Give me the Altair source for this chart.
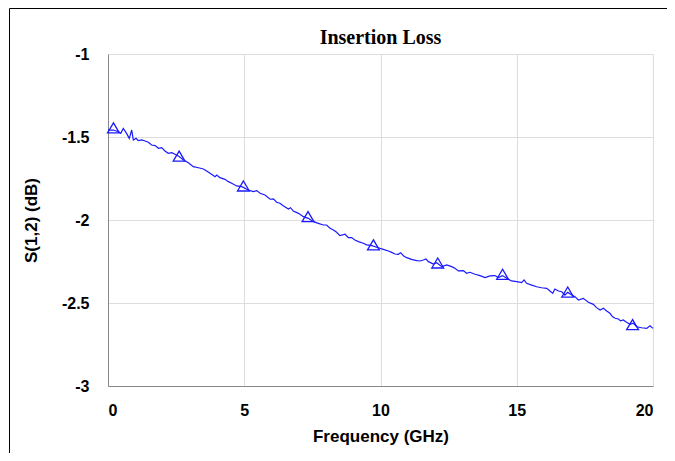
import altair as alt
import pandas as pd

# Trace: frequency (GHz) and S(1,2) (dB)
freq = [
    0.00, 0.20, 0.38, 0.47, 0.56, 0.66, 0.78, 0.87, 0.93, 1.03,
    1.11, 1.24, 1.36, 1.48, 1.60, 1.73, 1.85, 1.97, 2.09, 2.21,
    2.34, 2.46, 2.61, 2.77, 2.95, 3.13, 3.32, 3.50, 3.62, 3.80,
    3.93, 3.99, 4.11, 4.29, 4.42, 4.54, 4.72, 4.91, 5.15, 5.33,
    5.46, 5.58, 5.76, 5.95, 6.07, 6.19, 6.31, 6.43, 6.62, 6.70,
    6.80, 6.99, 7.17, 7.35, 7.54, 7.72, 7.90, 8.02, 8.15, 8.27,
    8.39, 8.51, 8.70, 8.82, 8.94, 9.06, 9.19, 9.37, 9.49, 9.68,
    9.92,
    10.10, 10.29, 10.41, 10.53, 10.65, 10.74, 10.84, 10.96, 11.14, 11.33,
    11.45, 11.57, 11.67, 11.76, 11.94, 12.06, 12.25, 12.43, 12.61, 12.73,
    12.86, 13.04, 13.16, 13.28, 13.47, 13.65, 13.84, 14.02, 14.20, 14.32,
    14.48, 14.63, 14.81, 15.00, 15.18, 15.27, 15.36, 15.55, 15.73, 15.91,
    16.10, 16.22, 16.32, 16.40, 16.53, 16.65, 16.77, 16.87, 17.02, 17.14,
    17.26, 17.44, 17.63, 17.81, 17.93, 18.06, 18.18, 18.30, 18.42, 18.51,
    18.61, 18.73, 18.81, 18.91, 19.03, 19.16, 19.28, 19.40, 19.58, 19.77,
    19.89, 20.00,
]
s12 = [
    -1.458, -1.458, -1.468, -1.478, -1.448, -1.472, -1.508, -1.458, -1.518, -1.508,
    -1.522, -1.518, -1.524, -1.532, -1.548, -1.552, -1.568, -1.564, -1.584, -1.598,
    -1.594, -1.604, -1.618, -1.639, -1.655, -1.679, -1.685, -1.693, -1.705, -1.725,
    -1.739, -1.729, -1.745, -1.755, -1.769, -1.779, -1.795, -1.799, -1.819, -1.829,
    -1.823, -1.839, -1.849, -1.875, -1.873, -1.893, -1.899, -1.914, -1.934, -1.926,
    -1.946, -1.960, -1.980, -1.990, -2.010, -2.020, -2.030, -2.030, -2.050, -2.060,
    -2.074, -2.094, -2.086, -2.106, -2.106, -2.120, -2.130, -2.140, -2.150, -2.154,
    -2.167,
    -2.177, -2.187, -2.195, -2.205, -2.207, -2.197, -2.215, -2.227, -2.237, -2.245,
    -2.247, -2.241, -2.235, -2.251, -2.265, -2.257, -2.281, -2.271, -2.281, -2.291,
    -2.307, -2.305, -2.321, -2.315, -2.327, -2.335, -2.347, -2.337, -2.335, -2.347,
    -2.335, -2.351, -2.367, -2.371, -2.377, -2.361, -2.381, -2.392, -2.402, -2.408,
    -2.412, -2.428, -2.442, -2.416, -2.428, -2.432, -2.452, -2.436, -2.452, -2.462,
    -2.482, -2.472, -2.496, -2.508, -2.528, -2.542, -2.532, -2.548, -2.562, -2.582,
    -2.592, -2.596, -2.608, -2.602, -2.616, -2.628, -2.622, -2.643, -2.649, -2.653,
    -2.637, -2.653,
]
assert len(freq) == len(s12), (len(freq), len(s12))

# Triangle marker positions
marker_freq = [0.20, 2.61, 4.97, 7.34, 9.74, 12.10, 14.48, 16.87, 19.25]
marker_s12 = [-1.445, -1.615, -1.795, -1.980, -2.150, -2.259, -2.327, -2.434, -2.630]

x_ticks = [0, 5, 10, 15, 20]
y_ticks = [-3, -2.5, -2, -1.5, -1]
chart_title = ["Insertion Loss"]

W, H = 545, 332
BLUE = "#1a1aff"
SANS = "Liberation Sans"

line_df = pd.DataFrame({"f": freq, "s": s12})
mk_df = pd.DataFrame({"f": marker_freq, "s": marker_s12})

x_enc = alt.X(
    "f:Q",
    scale=alt.Scale(domain=[0, 20], nice=False, zero=False),
    axis=alt.Axis(
        title="Frequency (GHz)", values=x_ticks, grid=True, ticks=False, tickSize=0,
        labelPadding=16, titlePadding=10,
        labelFont=SANS, titleFont=SANS, labelFontWeight="bold", titleFontWeight="bold",
        labelFontSize=16, titleFontSize=17, labelColor="#000000", titleColor="#000000",
    ),
)
y_enc = alt.Y(
    "s:Q",
    scale=alt.Scale(domain=[-3, -1], nice=False, zero=False),
    axis=alt.Axis(
        title="S(1,2) (dB)", values=y_ticks, grid=True, ticks=False, tickSize=0,
        labelPadding=19, titlePadding=21,
        labelFont=SANS, titleFont=SANS, labelFontWeight="bold", titleFontWeight="bold",
        labelFontSize=16, titleFontSize=17, labelColor="#000000", titleColor="#000000",
        labelExpr="toString(datum.value)",
    ),
)

line = alt.Chart(line_df).mark_line(color=BLUE, strokeWidth=1.2).encode(x=x_enc, y=y_enc)

markers = alt.Chart(mk_df).mark_point(
    shape="M0,-0.85L-1,0.85L1,0.85Z", size=140, filled=False,
    color=BLUE, strokeWidth=1.3, opacity=1,
).encode(x=x_enc, y=y_enc)

one = pd.DataFrame({"k": [0]})
frame_top = alt.Chart(one).mark_rule(color="#000000", strokeWidth=1).encode(
    x=alt.value(-98.5), x2=alt.value(W + 40), y=alt.value(-45.5)
)
frame_left = alt.Chart(one).mark_rule(color="#000000", strokeWidth=1).encode(
    x=alt.value(-98.5), y=alt.value(-45.5), y2=alt.value(H + 100)
)
title_df = pd.DataFrame({"t": chart_title})
title_mark = alt.Chart(title_df).mark_text(
    font="Liberation Serif", fontSize=20, fontWeight="bold", color="#000000",
    align="center", baseline="alphabetic",
).encode(text="t:N", x=alt.value(W / 2), y=alt.value(-10))

chart = (
    alt.layer(frame_top, frame_left, line, markers, title_mark)
    .properties(
        width=W,
        height=H,
        autosize=alt.AutoSizeParams(type="none"),
        padding={"left": 100, "top": 46, "right": 14, "bottom": 67},
    )
    .configure_view(stroke="#444444", strokeWidth=1)
    .configure_axis(
        domainColor="#111111", domainWidth=1.5,
        gridColor="#c8c8c8", gridWidth=1,
    )
    .configure(background="white")
)

chart.save("out.html", embed_options={"renderer": "svg", "actions": False})
